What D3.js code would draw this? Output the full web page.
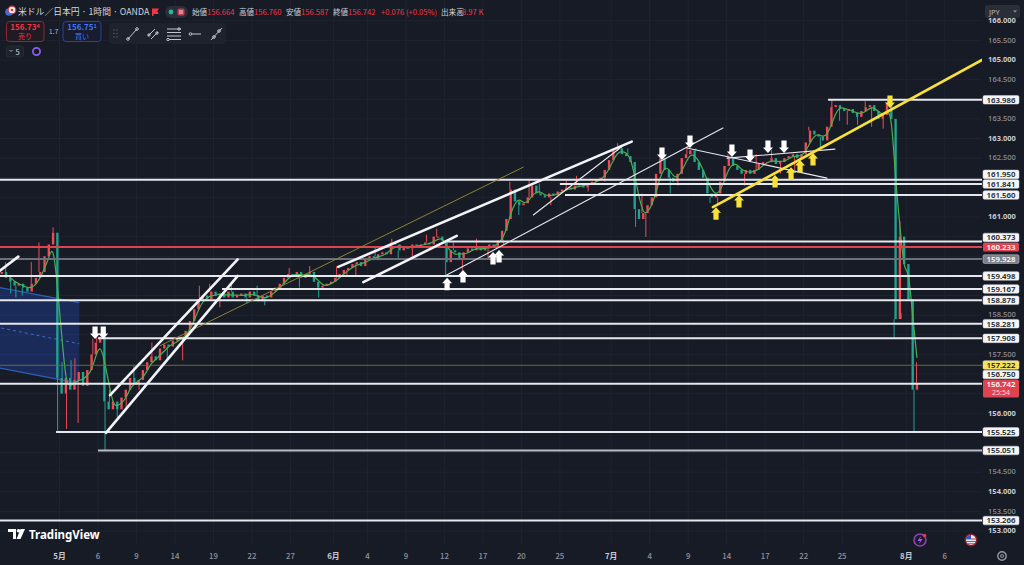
<!DOCTYPE html>
<html><head><meta charset="utf-8">
<script src="https://cdn.jsdelivr.net/npm/d3@7/dist/d3.min.js"></script>
<style>
html,body{margin:0;padding:0;background:#171b26;overflow:hidden}
svg{display:block;font-family:"Noto Sans CJK JP","Noto Sans",sans-serif}
</style></head><body>
<svg id="c" width="1024" height="565"></svg>
<script>
// ---------- DATA ----------
const startDay = -5;          // trading-day index of first bar (May 1 = 0)
const barsPerDay = 3;
const firstOpen = 159.5;
const closes = [
 159.55,159.6,159.45, 159.35,159.25,159.3, 159.2,159.1,159.3, 159.45,159.6,160.0, 160.3,160.6,156.9,
 156.5,156.9,156.6, 156.85,157.05,156.7, 157.1,157.5,157.8, 157.95,156.3,156.1, 156.3,156.1,156.4,
 156.6,156.9,156.75, 156.85,157.1,157.3, 157.45,157.35,157.65, 157.75,157.7,157.85, 157.9,157.95,158.1,
 158.35,158.65,158.9, 159.0,158.9,159.1, 159.0,159.05,158.95, 159.1,158.95,159.0, 159.05,158.95,159.1,
 159.0,158.85,159.0, 158.95,159.1,159.2, 159.3,159.45,159.55, 159.5,159.6,159.45, 159.55,159.6,159.35,
 159.2,159.25,159.3, 159.35,159.45,159.55, 159.65,159.7,159.8, 159.85,159.75,159.95, 160.0,159.9,160.05,
 160.1,160.05,160.35, 160.3,160.15,160.25, 160.2,160.3,160.25, 160.3,160.35,160.3, 160.5,160.5,160.4,
 159.85,160.15,160.1, 159.95,160.1,160.2, 160.15,160.25,160.15, 160.2,160.3,160.25, 160.4,160.65,160.95,
 161.7,161.4,161.3, 161.35,161.5,161.8, 161.6,161.55,161.5, 161.6,161.55,161.65, 161.7,161.75,161.7,
 161.8,161.85,161.75, 161.85,161.9,161.95, 162.0,162.2,162.45, 162.7,162.75,162.6, 162.55,162.4,161.2,
 160.95,161.1,161.3, 161.5,162.1,162.5, 162.2,162.0,161.9, 162.1,162.5,162.6, 162.7,162.4,162.2,
 162.0,161.6,161.5, 161.6,161.9,162.3, 162.5,162.3,162.2, 162.1,162.2,162.1, 162.2,162.35,162.4,
 162.4,162.5,162.35, 162.4,162.5,162.55, 162.6,162.5,162.6, 162.9,163.2,163.1, 163.05,162.95,163.3,
 163.8,163.85,163.75, 163.7,163.75,163.65, 163.55,163.7,163.8, 163.85,163.7,163.5, 163.6,163.9,163.5,
 158.4,160.5,159.8, 158.9,156.6,156.742
];
// [trading day, extreme price] of visible wicks
const wicks = [
 [-4.8,159.8],[-4.2,159.85],[-3.8,159.05],[-3.4,158.95],[-2.9,159.0],[-2.2,159.85],[-1.6,160.35],[-0.5,160.74],
 [-0.15,155.55],[0.2,157.3],[0.55,155.6],[0.9,157.35],[1.2,157.4],[1.45,155.75],[2.2,156.8],[2.6,157.9],
 [2.9,158.05],[3.55,155.06],[3.9,156.6],[4.5,155.9],[5.2,156.1],[5.8,157.2],[6.2,156.6],[7.2,157.8],
 [8.4,157.4],[9.6,157.35],[10.3,158.1],[10.9,159.25],[11.7,159.3],[12.5,158.7],[13.4,159.3],[14.6,158.8],
 [15.4,159.25],[16.0,158.75],[17.3,159.15],[17.9,159.7],[18.7,159.2],[19.5,159.75],[20.2,158.95],[21.6,159.75],
 [22.4,159.5],[23.1,159.47],[24.6,160.25],[25.9,160.45],[26.4,159.95],[27.5,160.0],[28.6,160.55],[29.4,160.7],
 [30.1,159.5],[30.7,160.35],[31.4,159.65],[32.5,160.45],[33.4,159.95],[34.6,160.3],[35.1,161.9],[35.8,161.05],
 [36.6,161.95],[37.4,161.85],[38.3,161.3],[39.5,161.95],[40.3,162.05],[41.2,161.65],[42.5,161.9],[43.5,162.88],
 [44.3,162.75],[44.9,160.75],[45.4,161.6],[45.7,160.49],[46.9,162.6],[47.6,161.6],[48.2,161.8],[48.9,162.75],
 [49.6,162.75],[50.7,161.36],[51.3,161.3],[52.1,162.6],[53.4,161.8],[54.3,162.6],[55.5,162.7],[56.2,162.1],
 [57.3,162.2],[58.4,163.3],[59.3,162.75],[60.2,164.0],[60.8,163.45],[61.4,163.35],[62.2,163.35],[62.8,163.95],
 [63.3,163.3],[64.2,163.25],[64.6,163.98],[65.05,157.9],[65.5,160.9],[65.6,158.55],[66.2,159.5],[66.6,155.5],[66.8,157.3]
];
const maWindow = 3;

// time axis
const tickDays   = [0,3,6,9,12,15,18,21.35,24,27,30,33,36,39,43,46,49,52,55,58,61,66,69];
const tickLabels = ["5月","6","9","14","19","22","27","6月","4","9","12","17","20","25","7月","4","9","14","17","22","25","8月","6"];
// price axis
const priceTicks = [153,153.5,154,154.5,155,155.5,156,156.5,157,157.5,158,158.5,159,159.5,160,160.5,161,161.5,162,162.5,163,163.5,164,164.5,165,165.5,166];

// horizontal levels: price, start day, kind
const levelPrices = [163.986,161.950,161.841,161.560,160.373,160.233,159.928,159.498,159.167,158.878,158.281,157.908,157.222,156.750,155.525,155.051,153.266];
const levelStarts = [59.9,-6,39.0,39.4,30.2,-6,-6,-6,12.67,-6,-6,3.0,-6,-6,-0.27,3.0,-6];
const levelKinds  = ["w","w","w","w","w","red","gray","w","w","w","w","w","olive","w","w","light","w"];
const lastPrice = 156.742, countdown = "25:54";

// trend lines [day1, price1, day2, price2]
const trendThick  = [[-5,159.54,-3.21,159.99],[3.94,156.46,13.89,159.92],[3.62,155.50,13.89,159.50],[21.73,159.73,44.6,162.92],[23.68,159.34,30.96,160.52]];
const trendThin   = [[30.18,159.52,51.71,163.27],[36.93,161.05,43.82,162.79],[48.9,162.76,59.82,161.99],[52.03,162.50,60.44,162.73]];
const trendOlive  = [[7.84,157.72,36.15,162.27]];
const trendYellow = [[50.93,161.25,71.9,165.0]];
// parallel channel (shaded) corners
const chanTop = [[-5,159.22],[1.54,158.82]];
const chanBot = [[-5,157.17],[1.54,156.76]];
const chanMid = [[-5,158.20],[1.54,157.77]];
// arrow tips [day, price]
const arrowsWhiteDown  = [[2.77,157.89],[3.41,157.89],[46.96,162.45],[49.14,162.76],[52.41,162.53],[53.82,162.40],[55.22,162.63],[56.47,162.63]];
const arrowsWhiteUp    = [[30.21,159.45],[31.45,159.65],[33.79,160.11],[34.26,160.16]];
const arrowsYellowUp   = [[51.17,161.25],[52.96,161.56],[55.77,162.07],[57.02,162.27],[57.72,162.45],[58.73,162.63]];
const arrowsYellowDown = [[64.73,163.78]];

// ---------- DRAW ----------
const svg = d3.select('#c');
const W = 1024, H = 565, plotR = 982, plotB = 545;
const x = d3.scaleLinear().domain([0,69]).range([59.5, 59.5 + 69*12.83]);
const y = d3.scaleLinear().domain([153,165]).range([531,60]);
const UP = '#f04a55', DN = '#21a38f';

svg.append('rect').attr('width',W).attr('height',H).attr('fill','#171b26');
svg.append('defs').append('clipPath').attr('id','pc').append('rect').attr('x',0).attr('y',0).attr('width',plotR).attr('height',plotB);

// grid
const grid = svg.append('g').attr('clip-path','url(#pc)');
grid.selectAll('.vg').data(tickDays).join('line').attr('x1',d=>x(d)).attr('x2',d=>x(d)).attr('y1',0).attr('y2',plotB).attr('stroke','#1f2330').attr('stroke-width',1);
grid.selectAll('.hg').data(priceTicks).join('line').attr('x1',0).attr('x2',plotR).attr('y1',d=>y(d)).attr('y2',d=>y(d)).attr('stroke','#1f2330').attr('stroke-width',1);

const plot = svg.append('g').attr('clip-path','url(#pc)');

// shaded channel
const poly = [chanTop[0],chanTop[1],chanBot[1],chanBot[0]];
plot.append('path').attr('d','M'+poly.map(p=>x(p[0])+','+y(p[1])).join('L')+'Z').attr('fill','rgba(41,98,255,0.24)').attr('stroke','none');
[chanTop,chanBot].forEach(c=>plot.append('line').attr('x1',x(c[0][0])).attr('y1',y(c[0][1])).attr('x2',x(c[1][0])).attr('y2',y(c[1][1])).attr('stroke','#2f5fb8').attr('stroke-width',1.2));
plot.append('line').attr('x1',x(chanMid[0][0])).attr('y1',y(chanMid[0][1])).attr('x2',x(chanMid[1][0])).attr('y2',y(chanMid[1][1])).attr('stroke','#3a6cc9').attr('stroke-width',1).attr('stroke-dasharray','3,3');

// candles
const candles = closes.map((c,i)=>({i, d: startDay + (i+0.5)/barsPerDay, o: i ? closes[i-1] : firstOpen, c}));
const slot = x(1/barsPerDay) - x(0);
const bw = slot*0.55;
const cg = plot.append('g');
wicks.forEach(w=>{
  const i = Math.max(0, Math.min(candles.length-1, Math.floor((w[0]-startDay)*barsPerDay)));
  const k = candles[i];
  const hi = Math.max(k.o,k.c), lo = Math.min(k.o,k.c);
  const from = w[1] > hi ? hi : lo;
  const xx = x(w[0]);
  cg.append('line').attr('x1',xx).attr('x2',xx).attr('y1',y(from)).attr('y2',y(w[1]))
    .attr('stroke', k.c>=k.o?UP:DN).attr('stroke-width',1);
});
cg.selectAll('rect').data(candles).join('rect')
  .attr('x',d=>x(d.d)-bw/2).attr('width',bw)
  .attr('y',d=>y(Math.max(d.o,d.c)))
  .attr('height',d=>Math.max(1, Math.abs(y(d.o)-y(d.c))))
  .attr('fill',d=>d.c>=d.o?UP:DN);

// moving average
const ma = candles.map((k,i)=>{ if(i<maWindow-1) return null; let s=0; for(let j=i-maWindow+1;j<=i;j++) s+=closes[j]; return {d:k.d, v:s/maWindow}; }).filter(Boolean);
plot.append('path').datum(ma).attr('d',d3.line().x(d=>x(d.d)).y(d=>y(d.v)).curve(d3.curveBasis))
  .attr('fill','none').attr('stroke','#4caf50').attr('stroke-width',1.2);

// horizontal levels
const levStyle = {w:['#e6e8ee',2],red:['#e0434f',2],gray:['#6e717c',2],olive:['#6f6a2c',1],light:['#b9bcc4',2]};
levelPrices.forEach((p,i)=>{
  const st = levStyle[levelKinds[i]];
  plot.append('line').attr('x1',x(levelStarts[i])).attr('x2',plotR).attr('y1',y(p)).attr('y2',y(p))
    .attr('stroke',st[0]).attr('stroke-width',st[1]);
});

// trend lines
const tl = (arr,col,w)=>arr.forEach(t=>plot.append('line').attr('x1',x(t[0])).attr('y1',y(t[1])).attr('x2',x(t[2])).attr('y2',y(t[3])).attr('stroke',col).attr('stroke-width',w).attr('stroke-linecap','round'));
tl(trendOlive,'#8c8433',1);
tl(trendThin,'#e6e8ee',1.1);
tl(trendThick,'#f2f3f6',2.6);
tl(trendYellow,'#f7e13a',2.6);

// arrows
function arrow(tip, dir, col){
  const tx = x(tip[0]), ty = y(tip[1]);
  const s = dir==='up'?1:-1; // up: tip at top
  const hw=5, hh=5.5, sw=2.6, sh=7;
  const pts = [[0,0],[hw,hh],[sw,hh],[sw,hh+sh],[-sw,hh+sh],[-sw,hh],[-hw,hh]];
  plot.append('path').attr('d','M'+pts.map(p=>(tx+p[0])+','+(ty+s*p[1])).join('L')+'Z').attr('fill',col);
}
arrowsWhiteDown.forEach(a=>arrow(a,'down','#ffffff'));
arrowsWhiteUp.forEach(a=>arrow(a,'up','#ffffff'));
arrowsYellowUp.forEach(a=>arrow(a,'up','#f7e13a'));
arrowsYellowDown.forEach(a=>arrow(a,'down','#f7e13a'));

// ---------- price axis ----------
const pa = svg.append('g');
// label boxes with stacking (bottom first)
const boxes = levelPrices.map((p,i)=>({p, kind:levelKinds[i], yc:y(p)}));
const cur = {p:lastPrice, kind:'cur', yc:y(lastPrice)};
const all = boxes.concat([cur]).sort((a,b)=>b.yc-a.yc);
let ceil = 1e9;
all.forEach(b=>{
  b.top = 4.3; b.bot = b.kind==='cur'?13.3:4.3;
  b.yd = Math.min(b.yc, ceil - 1 - b.bot);
  ceil = b.yd - b.top;
});
// tick labels not hidden behind a label box
const visibleTicks = priceTicks.filter(t=>{
  const ty = y(t);
  return !all.some(b=> ty+3.5 > b.yd-b.top-0.5 && ty-3.5 < b.yd+b.bot+0.5);
});
pa.selectAll('text.tk').data(visibleTicks).join('text')
  .attr('x',1002).attr('y',d=>y(d)+2.3).attr('text-anchor','middle')
  .attr('font-size',7.5).attr('font-family','"Noto Sans",sans-serif')
  .attr('font-weight',d=>Number.isInteger(d)?700:500)
  .attr('fill',d=>Number.isInteger(d)?'#c9ccd4':'#8f929c')
  .text(d=>d.toFixed(3));

const boxStyle = {w:['#f4f5f8','#131722'],light:['#f4f5f8','#131722'],red:['#e0434f','#ffffff'],gray:['#7b7e89','#ffffff'],olive:['#f7e35a','#131722'],cur:['#e0434f','#ffffff']};
all.forEach(b=>{
  const st = boxStyle[b.kind];
  const h = b.top + b.bot;
  pa.append('rect').attr('x',983).attr('y',b.yd-b.top).attr('width',36).attr('height',h).attr('rx',1.5).attr('fill',st[0])
    .attr('stroke',b.kind==='cur'||b.kind==='red'?'none':'#cfd2d9').attr('stroke-width',0.5);
  pa.append('text').attr('x',1001).attr('y',b.yd+2.8).attr('text-anchor','middle').attr('font-size',7.8)
    .attr('font-weight',600).attr('font-family','"Noto Sans",sans-serif').attr('fill',st[1]).text(b.p.toFixed(3));
  if(b.kind==='cur') pa.append('text').attr('x',1001).attr('y',b.yd+11.2).attr('text-anchor','middle').attr('font-size',7)
    .attr('font-family','"Noto Sans",sans-serif').attr('fill','#ffd6d9').text(countdown);
});

// JPY button
svg.append('rect').attr('x',985).attr('y',5).attr('width',35).attr('height',13).attr('rx',2).attr('fill','#2a2e39');
svg.append('text').attr('x',989).attr('y',14.5).attr('font-size',7.5).attr('fill','#b2b5be').attr('font-family','"Noto Sans",sans-serif').text('JPY');
svg.append('path').attr('d','M1013,10.5 L1017,10.5 L1015,12.5Z').attr('fill','#9598a1');

// ---------- time axis ----------
const ta = svg.append('g');
ta.selectAll('text').data(tickDays).join('text')
  .attr('x',d=>x(d)).attr('y',559).attr('text-anchor','middle').attr('font-size',7.8)
  .attr('font-weight',(d,i)=>tickLabels[i].includes('月')?700:500)
  .attr('fill',(d,i)=>tickLabels[i].includes('月')?'#c9ccd4':'#8f929c')
  .text((d,i)=>tickLabels[i]);
// gear
const gear = svg.append('g').attr('transform','translate(1002,556)');
gear.append('circle').attr('r',4.2).attr('fill','none').attr('stroke','#9598a1').attr('stroke-width',1.4);
gear.append('circle').attr('r',1.5).attr('fill','none').attr('stroke','#9598a1').attr('stroke-width',1);

// bottom icons
const li = svg.append('g').attr('transform','translate(920,540)');
li.append('circle').attr('r',6).attr('fill','#1f1a2e').attr('stroke','#8e44ad').attr('stroke-width',1.6);
li.append('path').attr('d','M1,-4 L-2.5,1 L0,1 L-1,4 L2.5,-1 L0,-1Z').attr('fill','#a855f7');
li.append('circle').attr('cx',4.5).attr('cy',-4.5).attr('r',1.8).attr('fill','#f23645');
const fl = svg.append('g').attr('transform','translate(971,540)');
fl.append('circle').attr('r',6.5).attr('fill','#8a1f2a');
fl.append('circle').attr('r',5).attr('fill','#e8eaf0');
fl.append('path').attr('d','M-5,-1 L5,-1 M-5,1.5 L5,1.5 M-4,3.8 L4,3.8').attr('stroke','#d23a44').attr('stroke-width',1.1);
fl.append('path').attr('d','M-5,-1 A5,5 0 0 1 0,-5 L0,-1Z').attr('fill','#3457b8');

// TradingView logo
const tv = svg.append('g').attr('transform','translate(8,529)');
tv.append('path').attr('d','M0,0 H8 V10 H5 V3 H0Z').attr('fill','#ffffff');
tv.append('circle').attr('cx',10.5).attr('cy',1.8).attr('r',1.8).attr('fill','#ffffff');
tv.append('path').attr('d','M12.5,0 H17 L12.5,10 H8.5Z').attr('fill','#ffffff');
svg.append('text').attr('x',29).attr('y',538.5).attr('font-size',11.5).attr('font-weight',700).attr('fill','#ffffff')
  .attr('font-family','"Noto Sans",sans-serif').text('TradingView');

// ---------- header ----------
const hd = svg.append('g').attr('font-family','"Noto Sans CJK JP","Noto Sans",sans-serif');
hd.append('circle').attr('cx',9).attr('cy',12).attr('r',3.8).attr('fill','#3b6fd8');
hd.append('circle').attr('cx',12).attr('cy',10).attr('r',3.8).attr('fill','#f0f0f0').attr('stroke','#d23a44').attr('stroke-width',1.2);
hd.append('circle').attr('cx',12).attr('cy',10).attr('r',1.3).attr('fill','#d23a44');
hd.append('text').attr('x',18).attr('y',15).attr('font-size',8.8).attr('fill','#d1d4dc').text('米ドル／日本円 · 1時間 · OANDA');
hd.append('path').attr('d','M152,8.5 H159 L157.2,11.2 L159,14 H153.5 V16 H152Z').attr('fill','#f23645');
hd.append('rect').attr('x',165).attr('y',6).attr('width',23).attr('height',12).attr('rx',6).attr('fill','#2a2e39');
hd.append('circle').attr('cx',171).attr('cy',12).attr('r',2.4).attr('fill','#2bb59b');
hd.append('rect').attr('x',177.5).attr('y',8.5).attr('width',7).attr('height',7).attr('rx',1.5).attr('fill','#c43a52');
hd.append('path').attr('d','M179,11 H183 M179,13 H183').attr('stroke','#ffffff').attr('stroke-width',0.8);
const ohlc = [["始値",192],["156.664",207,1],["高値",239],["156.760",254,1],["安値",286],["156.587",301,1],["終値",333],["156.742",348,1],["+0.076 (+0.05%)",381,1],["出来高",441],["8.97 K",462,1]];
ohlc.forEach(o=>hd.append('text').attr('x',o[1]).attr('y',15).attr('font-size',7.6).attr('fill',o[2]?'#f23645':'#d1d4dc').text(o[0]));

// sell / buy boxes
hd.append('rect').attr('x',6.5).attr('y',21.5).attr('width',37.5).attr('height',20).attr('rx',3).attr('fill','#221a22').attr('stroke','#8e2a33').attr('stroke-width',1);
hd.append('text').attr('x',25).attr('y',30).attr('text-anchor','middle').attr('font-size',8).attr('font-weight',600).attr('fill','#f23645')
  .html('156.73<tspan font-size="5.5" dy="-2">4</tspan>');
hd.append('text').attr('x',25).attr('y',39).attr('text-anchor','middle').attr('font-size',7).attr('fill','#f23645').text('売り');
hd.append('text').attr('x',53.5).attr('y',34).attr('text-anchor','middle').attr('font-size',7).attr('fill','#b2b5be').text('1.7');
hd.append('rect').attr('x',63).attr('y',21.5).attr('width',38).attr('height',20).attr('rx',3).attr('fill','#171c2e').attr('stroke','#28449a').attr('stroke-width',1);
hd.append('text').attr('x',82).attr('y',30).attr('text-anchor','middle').attr('font-size',8).attr('font-weight',600).attr('fill','#3f76ff')
  .html('156.75<tspan font-size="5.5" dy="-2">1</tspan>');
hd.append('text').attr('x',82).attr('y',39).attr('text-anchor','middle').attr('font-size',7).attr('fill','#3f76ff').text('買い');

// toolbar
hd.append('rect').attr('x',109).attr('y',23).attr('width',117).attr('height',21).attr('rx',4).attr('fill','#1e222d');
[[114,30],[117,30],[114,33.5],[117,33.5],[114,37],[117,37]].forEach(p=>hd.append('circle').attr('cx',p[0]).attr('cy',p[1]).attr('r',0.7).attr('fill','#5d606b'));
const ic = hd.append('g').attr('stroke','#c3c6ce').attr('fill','none').attr('stroke-width',1);
ic.append('path').attr('d','M128,39 L137,29');
ic.append('circle').attr('cx',128).attr('cy',39).attr('r',1.3);ic.append('circle').attr('cx',137).attr('cy',29).attr('r',1.3);
ic.append('path').attr('d','M148,36 L155,29 M151,39 L158,32');
ic.append('circle').attr('cx',149).attr('cy',35).attr('r',1.2);ic.append('circle').attr('cx',157).attr('cy',33).attr('r',1.2);
ic.append('path').attr('d','M167,29 H181 M167,32.5 H181 M167,36 H181 M169,39.5 H181');
ic.append('circle').attr('cx',179).attr('cy',29).attr('r',1.2);ic.append('circle').attr('cx',168).attr('cy',39.5).attr('r',1.2);
ic.append('path').attr('d','M192,34 H201');ic.append('circle').attr('cx',190.5).attr('cy',34).attr('r',1.3);
ic.append('path').attr('d','M211,40 L222,28');ic.append('circle').attr('cx',214).attr('cy',37).attr('r',1.3);ic.append('circle').attr('cx',219).attr('cy',31).attr('r',1.3);

// row 3
hd.append('rect').attr('x',6.5).attr('y',46).attr('width',17).attr('height',11).attr('rx',2).attr('fill','#1e222d').attr('stroke','#2a2e39').attr('stroke-width',0.8);
hd.append('path').attr('d','M9.5,50 L11,51.5 L12.5,50').attr('stroke','#b2b5be').attr('fill','none').attr('stroke-width',0.9);
hd.append('text').attr('x',15.5).attr('y',54.5).attr('font-size',7.5).attr('fill','#d1d4dc').text('5');
hd.append('circle').attr('cx',36.5).attr('cy',51.5).attr('r',3.6).attr('fill','none').attr('stroke','#8e5cf0').attr('stroke-width',1.8);
</script>
</body></html>
